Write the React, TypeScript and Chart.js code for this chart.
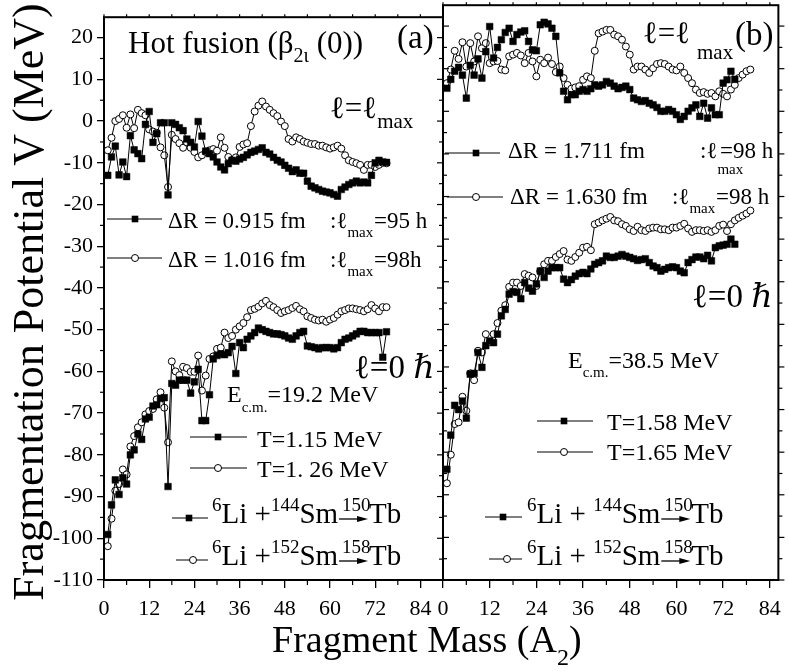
import React, { useEffect, useRef } from "react";
import { Chart, registerables } from "chart.js";

Chart.register(...registerables);

const SERIF = '"Liberation Serif", "Times New Roman", "DejaVu Serif", serif';

const MASS = [
  1, 2, 3, 4, 5, 6, 7, 8, 9, 10, 11, 12, 13, 14, 15, 16, 17, 18, 19, 20,
  21, 22, 23, 24, 25, 26, 27, 28, 29, 30, 31, 32, 33, 34, 35, 36, 37, 38, 39, 40,
  41, 42, 43, 44, 45, 46, 47, 48, 49, 50, 51, 52, 53, 54, 55, 56, 57, 58, 59, 60,
  61, 62, 63, 64, 65, 66, 67, 68, 69, 70, 71, 72, 73, 74, 75, 76, 77, 78, 79,
];

const Y_TICKS = [-110, -100, -90, -80, -70, -60, -50, -40, -30, -20, -10, 0, 10, 20];
const X_TICKS = [0, 12, 24, 36, 48, 60, 72, 84];

// ---------- Panel (a): 6Li+144Sm->150Tb (squares), 6Li+152Sm->158Tb (circles)
const A_LMAX_SQ = [
  -13, -8.6, -6, -12.9, -9.8, -13.3, -3.5, -6.9, -7.8, -9,
  -0.8, 2.3, -5.1, -3, -0.4, -0.4, -17.7, -0.4, -0.8, -1.6,
  -2.3, -4.3, -5.1, -6.2, -0.1, -3.6, -7.2, -7.8, -8.6, -9.8,
  -11, -11.7, -10.2, -9.4, -9.6, -9.1, -8.7, -8.1, -7.5, -7.2,
  -6.8, -6.4, -7.5, -7.9, -8.7, -9.4, -9.8, -10.6, -11.3, -12.1,
  -11.7, -12.5, -12.5, -14.4, -15.6, -16, -16.4, -16.8, -17, -17.2,
  -17.6, -18, -16.4, -15.8, -15.2, -14.8, -14.4, -14.8, -14.6, -14.8,
  -13, -10, -9.4, -9.8, -9.9,
];
const A_LMAX_CI = [
  -7, -4, 0, 0.5, 1.4, -1.6, 1.6, -1.7, 2.7, 1.9,
  1.4, -2, -2.5, -2.8, -6.3, -8.2, -15.8, -3.3, -4.3, -5.3,
  -6.4, -5.1, -6.4, -7.4, -8.7, -8.2, -7.4, -7, -6.7, -7.1,
  -3.9, -6.4, -8.6, -9.3, -8.7, -6.2, -5.6, -5.3, -1.2, 2.3,
  3.7, 4.7, 3.5, 2.7, 1.9, 1.2, -0.1, -1.2, -4.3, -4.9,
  -3.9, -4.3, -4.9, -5.2, -5.5, -5.5, -5.9, -5.9, -6.3, -6.6,
  -6.3, -5.9, -6.6, -8.2, -9.4, -9.8, -10.1, -10.5, -11.7, -10.5,
  -10.5, -11, -10.5, -10, -10.1,
];
const A_L0_SQ = [
  -99.1, -92, -86, -89.5, -85.5, -87, -80, -78.8, -75, -76.3,
  -71.4, -71, -68.3, -68, -66.5, -66.3, -87.6, -62.9, -63.3, -62.1,
  -62.1, -62.1, -65.2, -62.5, -59.5, -71.8, -71.8, -65.6, -57, -56.2,
  -55.8, -56, -55.5, -54, -60.5, -53.1, -54.3, -52.3, -51.5, -50.7,
  -49.6, -50, -50.4, -50.7, -51, -51, -51.2, -51.5, -52, -52.3,
  -51.5, -50.7, -50.4, -53.9, -54.1, -54.3, -54.6, -54.3, -54.3, -54.3,
  -54.6, -54.3, -53.1, -52.3, -52, -51.5, -51, -50.4, -50.4, -50.7,
  -50.7, -50.7, -50.7, -56.6, -50.5,
];
const A_L0_CI = [
  -101.9, -95.3, -88.6, -87, -83.5, -84.7, -78, -75.5, -73.4, -72.2,
  -70.3, -69.5, -69, -66.7, -65, -68.7, -77, -57.6, -60, -60.9,
  -58.9, -59.2, -60.1, -60.1, -56.2, -64.6, -61, -57, -56.4, -54.6,
  -54.3, -50.7, -52, -51.5, -50, -49.2, -48.4, -47, -45.3, -45,
  -44.5, -43.7, -43.1, -44.1, -44.6, -45.3, -46, -45.6, -45.3, -44.8,
  -44.3, -45.1, -45.6, -46.8, -47.2, -47.6, -47.8, -47.6, -48.1, -47.6,
  -47.2, -46.4, -45.6, -45.3, -44.9, -44.9, -45.1, -45.3, -45.6, -45.1,
  -44.1, -44.9, -45.6, -44.6, -44.6,
];

// ---------- Panel (b)
const B_LMAX_SQ = [
  5.4, 7.5, 9.4, 10.3, 8.5, 3.1, 10.8, 8.5, 12.3, 7.8,
  14, 19.9, 12.5, 15, 16.8, 18.5, 19.5, 16.4, 18, 18.6,
  18.9, 16.4, 14.4, 14.2, 20.3, 20.9, 20.5, 19.5, 17.6, 9,
  4.7, 2.7, 3.9, 3.9, 4.7, 5.1, 4.7, 5.3, 6.2, 5.9,
  6.2, 7, 6.6, 5.9, 5.3, 5.6, 5.9, 5.1, 3.1, 2.7,
  2.3, 2.5, 1.9, 1.5, 0.9, 0, 0, 0.4, 0, -0.8,
  -1.9, -1.2, 0, 0.8, 1.5, -1.2, 1.9, -1.6, 0.8, -0.8,
  -0.8, 6.6, 7.4, 9.4, 7.5,
];
const B_LMAX_CI = [
  6.6, 9.8, 14.2, 12.3, 16.2, 10.5, 16, 11.7, 17.6, 14.8,
  16, 11.3, 11.7, 11.8, 9.8, 9.6, 12.9, 13.3, 13.7, 13.1,
  11.3, 13.7, 11.7, 8.2, 12.1, 11.3, 12.6, 11.1, 9.2, 10.5,
  7.8, 6.2, 5.3, 5.6, 5.9, 7.4, 8.2, 7.8, 14.2, 18.3,
  18.7, 19.1, 19.1, 18, 17.6, 16.8, 15.2, 13.3, 9.8, 10.5,
  10.5, 9.8, 9, 10.1, 11.1, 11.3, 11.1, 10.5, 9.8, 9.6,
  10.5, 9, 7.8, 6.6, 5.1, 4.3, 4.5, 4.1, 4.3, 3.5,
  4.7, 4.1, 3.5, 5.1, 6.2, 7.8, 8.6, 9.4, 9.8,
];
const B_L0_SQ = [
  -84, -76, -69, -70, -68, -72, -61.7, -61.5, -56.6, -60.1,
  -55, -53.9, -54.3, -52.3, -48, -46.5, -42.9, -42.3, -42.5, -44,
  -40.2, -41.5, -42.2, -40.5, -37.5, -39, -37.5, -36.7, -36.7, -36.7,
  -39.4, -40.2, -39.5, -38.7, -38.1, -37.8, -38.1, -37, -35.9, -35.5,
  -35.1, -34, -34.3, -34.3, -34, -33.6, -34, -34.3, -34.6, -35,
  -34.8, -34.6, -35.5, -36.3, -36.7, -37.5, -37.1, -36.7, -36.5, -36.7,
  -37.5, -37.9, -35.5, -34.8, -34.2, -34.2, -34.6, -33.8, -35.1, -32,
  -31.6, -31.4, -31.2, -30, -31.2,
];
const B_L0_CI = [
  -87.3, -80.6, -73.4, -73, -67, -70.3, -61.5, -63.1, -56.2, -56.6,
  -52.3, -54.2, -52.3, -49.7, -46.8, -45.5, -41.2, -40.2, -40.2, -41,
  -38.2, -38.6, -39, -41, -37.5, -35.9, -35.1, -35.1, -34.2, -33.5,
  -32.8, -34.8, -35.1, -34.2, -33.2, -32, -31.8, -32.6, -26.5, -26.1,
  -25.6, -25.2, -24.8, -25.6, -25.8, -26.5, -26.9, -27.7, -28.1, -27.1,
  -27.9, -28.1, -27.5, -27.3, -27.3, -27.7, -27.7, -27.9, -27.3, -27.3,
  -26.9, -26.4, -27.5, -28.3, -27.9, -27.9, -28.1, -27.9, -28.3, -27.9,
  -26.9, -26.6, -28.1, -26.5, -25.6, -25, -24.5, -24, -23.3,
];

const Y_MIN = -110;
const Y_MAX = 24.9;
const XA_MAX = 90;
const XB_MAX = 86.2;

function series(vals: number[], filled: boolean) {
  return {
    data: vals.map((v, i) => ({ x: MASS[i], y: v })),
    borderColor: "#000",
    borderWidth: 1,
    pointStyle: filled ? "rect" : "circle",
    pointRadius: filled ? 4.7 : 3.5,
    pointHoverRadius: filled ? 4.7 : 3.5,
    pointBackgroundColor: filled ? "#000" : "#fff",
    pointBorderColor: "#000",
    pointBorderWidth: filled ? 0.5 : 1,
    tension: 0,
    fill: false,
  };
}

type Seg = { t: string; s: number; dy?: number; x?: number; it?: boolean };

function rich(ctx: CanvasRenderingContext2D, x: number, y: number, segs: Seg[]) {
  let cx = x;
  ctx.textAlign = "left";
  ctx.textBaseline = "alphabetic";
  ctx.fillStyle = "#000";
  for (const g of segs) {
    if (g.x !== undefined) cx = g.x;
    ctx.font = `${g.it ? "italic " : ""}${g.s}px ${SERIF}`;
    ctx.fillText(g.t, cx, y + (g.dy || 0));
    cx += ctx.measureText(g.t).width;
  }
  return cx;
}

function line(ctx: CanvasRenderingContext2D, x1: number, y1: number, x2: number, y2: number) {
  ctx.beginPath();
  ctx.moveTo(x1, y1);
  ctx.lineTo(x2, y2);
  ctx.stroke();
}

function mark(ctx: CanvasRenderingContext2D, x: number, y: number, filled: boolean) {
  if (filled) {
    ctx.fillStyle = "#000";
    ctx.fillRect(x - 3.3, y - 3.3, 6.6, 6.6);
  } else {
    ctx.beginPath();
    ctx.arc(x, y, 3.5, 0, Math.PI * 2);
    ctx.fillStyle = "#fff";
    ctx.fill();
    ctx.lineWidth = 1;
    ctx.strokeStyle = "#000";
    ctx.stroke();
  }
}

function legendLine(ctx: CanvasRenderingContext2D, x1: number, x2: number, y: number, filled: boolean, mx?: number) {
  ctx.strokeStyle = "#000";
  ctx.lineWidth = 1;
  line(ctx, x1, y, x2, y);
  mark(ctx, mx !== undefined ? mx : (x1 + x2) / 2, y, filled);
}

function arrow(ctx: CanvasRenderingContext2D, x1: number, x2: number, y: number) {
  ctx.strokeStyle = "#000";
  ctx.lineWidth = 1.3;
  line(ctx, x1, y, x2 - 6, y);
  ctx.beginPath();
  ctx.moveTo(x2 - 11, y - 3);
  ctx.lineTo(x2, y);
  ctx.lineTo(x2 - 11, y + 3);
  ctx.closePath();
  ctx.fillStyle = "#000";
  ctx.fill();
}

function reaction(ctx: CanvasRenderingContext2D, x: number, y: number, plus: string, a: string, c: string) {
  const xs = rich(ctx, x, y, [
    { t: "6", s: 19, dy: -12 },
    { t: "Li", s: 29 },
    { t: plus, s: 29 },
    { t: a, s: 19, dy: -12 },
    { t: "Sm", s: 29 },
  ]);
  arrow(ctx, xs + 1, xs + 30, y - 4);
  rich(ctx, xs + 4, y, [{ t: c, s: 19, dy: -12 }]);
  rich(ctx, xs + 31, y, [{ t: "Tb", s: 29 }]);
}

function frameTicks(chart: any, panel: "a" | "b") {
  const { ctx, chartArea: a } = chart;
  const xs = chart.scales.x;
  const ys = chart.scales.y;
  ctx.strokeStyle = "#000";
  ctx.lineWidth = 1.2;
  for (let v = -110; v <= 20; v += 5) {
    const py = ys.getPixelForValue(v);
    const major = v % 10 === 0;
    if (panel === "a") {
      if (!major) line(ctx, a.left - 4, py, a.left, py);
      line(ctx, a.right - (major ? 6 : 4), py, a.right, py);
    } else {
      line(ctx, a.left, py, a.left + (major ? 6 : 4), py);
      line(ctx, a.right, py, a.right + (major ? 6 : 4), py);
    }
  }
  for (let v = 6; v < xs.max; v += 12) {
    const px = xs.getPixelForValue(v);
    line(ctx, px, a.bottom, px, a.bottom + 5);
  }
  for (let v = 0; v < xs.max; v += 6) {
    const px = xs.getPixelForValue(v);
    line(ctx, px, a.top, px, a.top - 3);
  }
  ctx.lineWidth = 2;
  ctx.strokeRect(a.left, a.top, a.right - a.left, a.bottom - a.top);
}

const decorA = {
  id: "decorA",
  afterDraw(chart: any) {
    const ctx: CanvasRenderingContext2D = chart.ctx;
    ctx.save();
    frameTicks(chart, "a");

    // axis titles
    ctx.save();
    ctx.translate(43, 302);
    ctx.rotate(-Math.PI / 2);
    ctx.font = `44px ${SERIF}`;
    ctx.textAlign = "center";
    ctx.textBaseline = "alphabetic";
    ctx.fillStyle = "#000";
    ctx.fillText("Fragmentation Potential V (MeV)", 0, 0);
    ctx.restore();
    rich(ctx, 272, 652, [
      { t: "Fragment Mass (A", s: 38 },
      { t: "2", s: 24, dy: 13 },
      { t: ")", s: 38 },
    ]);

    // panel (a) texts
    rich(ctx, 128, 53, [
      { t: "Hot fusion (β", s: 31 },
      { t: "2ι", s: 20, dy: 9 },
      { t: " (0))", s: 31 },
    ]);
    rich(ctx, 397, 48, [{ t: "(a)", s: 33 }]);
    rich(ctx, 330, 118, [
      { t: "ℓ=ℓ", s: 31 },
      { t: "max", s: 21, dy: 10 },
    ]);

    legendLine(ctx, 107, 162, 219, true, 135);
    rich(ctx, 168, 228, [
      { t: "ΔR = 0.915 fm", s: 23 },
      { t: ":ℓ", s: 23, x: 330 },
      { t: "max", s: 15, dy: 9 },
      { t: "=95 h", s: 23, x: 374 },
    ]);
    legendLine(ctx, 107, 162, 258, false, 135);
    rich(ctx, 168, 267, [
      { t: "ΔR = 1.016 fm", s: 23 },
      { t: ":ℓ", s: 23, x: 330 },
      { t: "max", s: 15, dy: 9 },
      { t: "=98h", s: 23, x: 374 },
    ]);

    rich(ctx, 354, 378, [
      { t: "ℓ=0 ", s: 33 },
      { t: "ℏ", s: 33, it: true },
    ]);
    rich(ctx, 227, 402, [
      { t: "E", s: 24 },
      { t: "c.m.", s: 15, dy: 10 },
      { t: "=19.2 MeV", s: 24 },
    ]);
    legendLine(ctx, 190, 247, 437, true, 218);
    rich(ctx, 257, 447, [{ t: "T=1.15 MeV", s: 24 }]);
    legendLine(ctx, 190, 247, 468, false, 218);
    rich(ctx, 257, 477, [{ t: "T=1. 26 MeV", s: 24 }]);

    legendLine(ctx, 172, 208, 518, true, 189);
    reaction(ctx, 212, 523, " +", "144", "150");
    legendLine(ctx, 176, 208, 560, false, 193);
    reaction(ctx, 212, 565, " +", "152", "158");
    ctx.restore();
  },
};

const decorB = {
  id: "decorB",
  afterDraw(chart: any) {
    const ctx: CanvasRenderingContext2D = chart.ctx;
    ctx.save();
    frameTicks(chart, "b");

    rich(ctx, 735, 45, [{ t: "(b)", s: 33 }]);
    rich(ctx, 643, 43, [{ t: "ℓ=ℓ", s: 31 }, { t: "max", s: 21, dy: 16, x: 697 }]);

    legendLine(ctx, 445, 500, 153, true, 476);
    rich(ctx, 508, 158, [
      { t: "ΔR = 1.711 fm", s: 23 },
      { t: ":ℓ", s: 23, x: 700 },
      { t: "max", s: 15, dy: 16 },
      { t: "=98 h", s: 23, x: 720 },
    ]);
    legendLine(ctx, 447, 503, 197, false, 476);
    rich(ctx, 510, 204, [
      { t: "ΔR = 1.630 fm", s: 23 },
      { t: ":ℓ", s: 23, x: 672 },
      { t: "max", s: 15, dy: 9 },
      { t: "=98 h", s: 23, x: 716 },
    ]);

    rich(ctx, 692, 307, [
      { t: "ℓ=0 ", s: 33 },
      { t: "ℏ", s: 33, it: true },
    ]);
    rich(ctx, 568, 368, [
      { t: "E", s: 24 },
      { t: "c.m.", s: 15, dy: 9 },
      { t: "=38.5 MeV", s: 24 },
    ]);
    legendLine(ctx, 537, 593, 421, true, 564);
    rich(ctx, 607, 430, [{ t: "T=1.58 MeV", s: 24 }]);
    legendLine(ctx, 537, 593, 452, false, 564);
    rich(ctx, 607, 460, [{ t: "T=1.65 MeV", s: 24 }]);

    legendLine(ctx, 485, 522, 517, true, 503);
    reaction(ctx, 527, 523, " + ", "144", "150");
    legendLine(ctx, 489, 522, 559, false, 507);
    reaction(ctx, 527, 565, " + ", "152", "158");
    ctx.restore();
  },
};

function makeConfig(panel: "a" | "b") {
  const isA = panel === "a";
  const datasets = isA
    ? [series(A_LMAX_SQ, true), series(A_L0_SQ, true), series(A_LMAX_CI, false), series(A_L0_CI, false)]
    : [series(B_LMAX_SQ, true), series(B_L0_SQ, true), series(B_LMAX_CI, false), series(B_L0_CI, false)];
  return {
    type: "line" as const,
    data: { datasets },
    plugins: [isA ? decorA : decorB],
    options: {
      responsive: false,
      animation: false as const,
      devicePixelRatio: 1,
      layout: {
        padding: isA ? { left: 0, top: 4, right: 346, bottom: 0 } : { left: 443, top: 4, right: 7, bottom: 0 },
      },
      plugins: { legend: { display: false }, tooltip: { enabled: false } },
      events: [],
      scales: {
        x: {
          type: "linear" as const,
          min: 0,
          max: isA ? XA_MAX : XB_MAX,
          afterBuildTicks: (s: any) => {
            s.ticks = X_TICKS.map((v) => ({ value: v }));
          },
          afterFit: (s: any) => {
            s.height = 91;
          },
          grid: { display: true, drawOnChartArea: false, drawTicks: true, tickLength: 8, color: "#000", lineWidth: 1.3 },
          border: { display: false },
          ticks: {
            color: "#000",
            font: { family: SERIF, size: 22 },
            padding: 8,
            maxRotation: 0,
            autoSkip: false,
            callback: (v: any) => String(v),
          },
        },
        y: {
          type: "linear" as const,
          display: isA,
          min: Y_MIN,
          max: Y_MAX,
          afterBuildTicks: (s: any) => {
            s.ticks = Y_TICKS.map((v) => ({ value: v }));
          },
          afterFit: (s: any) => {
            if (isA) s.width = 104;
          },
          grid: { display: true, drawOnChartArea: false, drawTicks: true, tickLength: 7, color: "#000", lineWidth: 1.3 },
          border: { display: false },
          ticks: {
            color: "#000",
            font: { family: SERIF, size: 22 },
            padding: 4,
            autoSkip: false,
            callback: (v: any) => String(v),
          },
        },
      },
    },
  };
}

export default function App() {
  const refA = useRef<HTMLCanvasElement>(null);
  const refB = useRef<HTMLCanvasElement>(null);
  useEffect(() => {
    document.body.style.margin = "0";
    const cA = new Chart(refA.current as HTMLCanvasElement, makeConfig("a") as any);
    const cB = new Chart(refB.current as HTMLCanvasElement, makeConfig("b") as any);
    return () => {
      cA.destroy();
      cB.destroy();
    };
  }, []);
  return (
    <div style={{ position: "relative", width: 789, height: 671, background: "#fff", overflow: "hidden" }}>
      <canvas ref={refA} width={789} height={671} style={{ position: "absolute", left: 0, top: 0 }} />
      <canvas ref={refB} width={789} height={671} style={{ position: "absolute", left: 0, top: 0 }} />
    </div>
  );
}
